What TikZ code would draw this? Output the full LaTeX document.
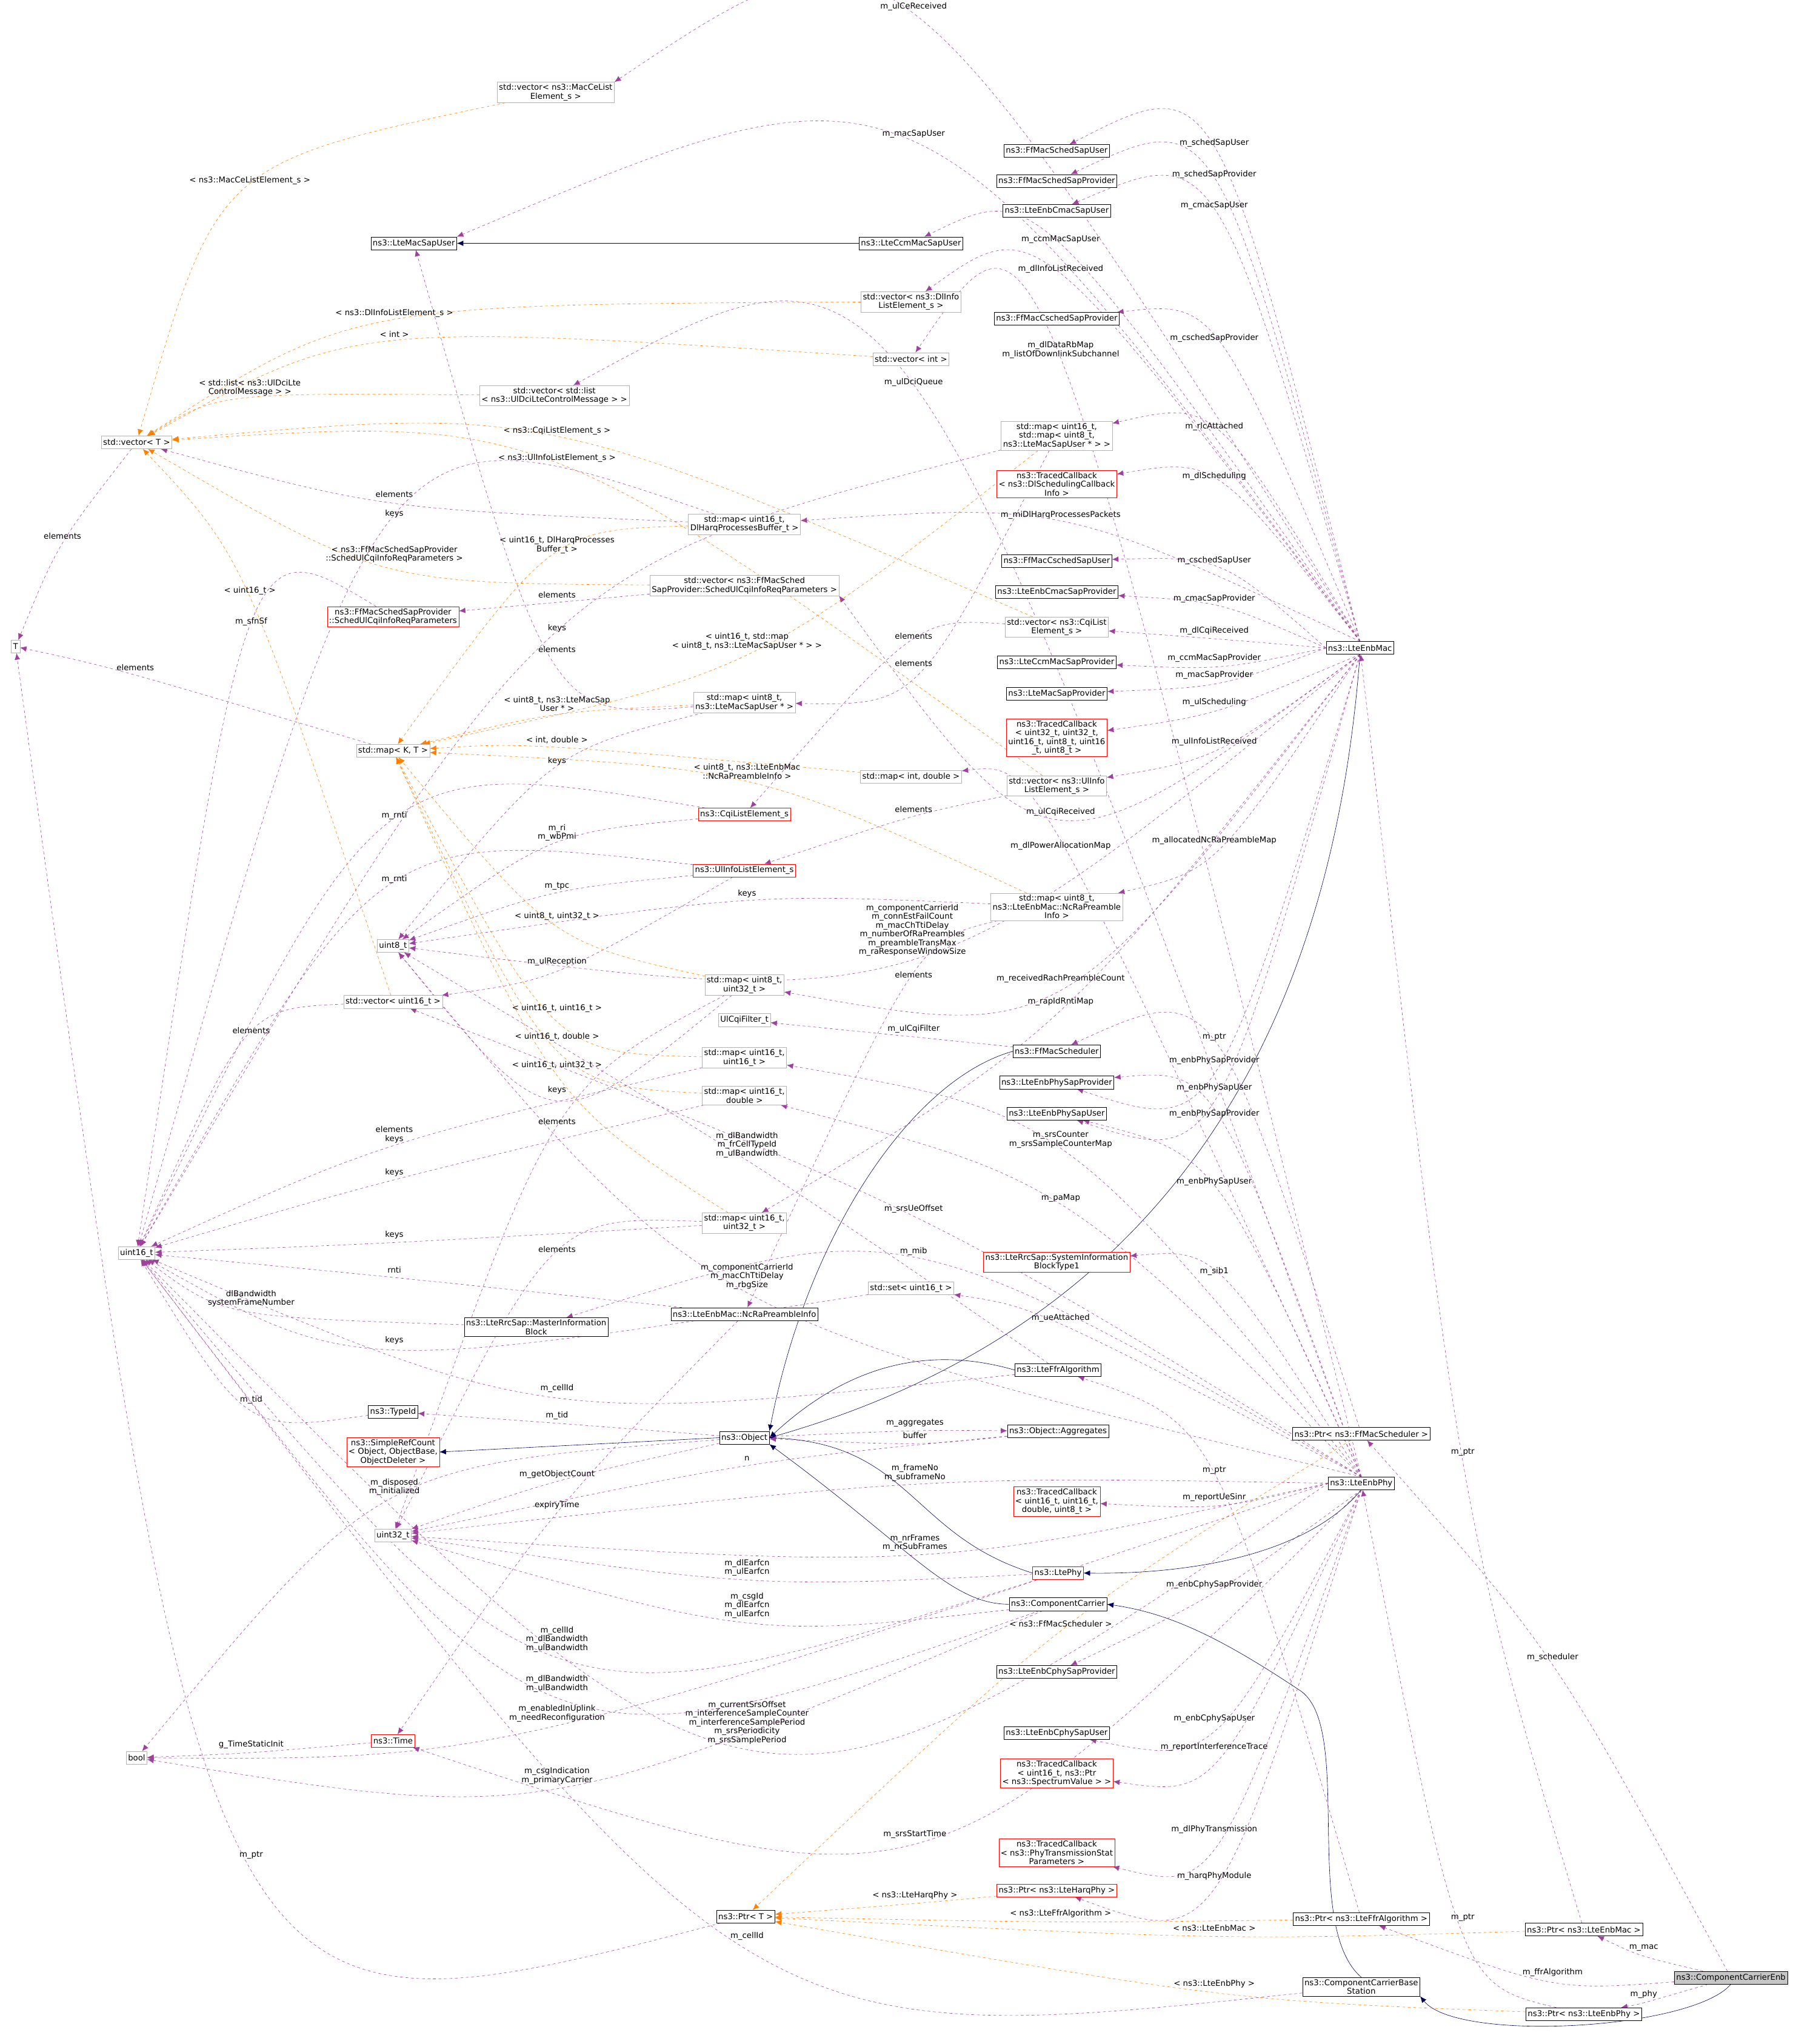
\documentclass[tikz,border=0pt]{standalone}
\usepackage{fontspec}
\setmainfont{DejaVu Sans}
\usetikzlibrary{arrows.meta,calc}
\pgfdeclarelayer{edges}
\pgfsetlayers{edges,main}
\tikzset{
 bx/.style={draw=black,fill=white,font=\fontsize{8.8}{9.6}\selectfont,align=center,inner sep=2pt,minimum height=14},
 gb/.style={bx,draw=gray!60},
 rb/.style={bx,draw=red},
 use/.style={dashed,draw=violet!75,-{Latex[length=7,width=6]}},
 tpl/.style={dashed,draw=orange,-{Latex[length=7,width=6]}},
 inh/.style={draw=blue!35!black,-{Latex[length=7,width=6]}},
 lab/.style={font=\fontsize{8.8}{9.6}\selectfont,align=center,text=black,inner sep=1pt}
}
% \Ed[offset]{style}{src}{tgt}{label}{x}{y}
\newcommand{\Ed}[7][6]{\draw[#2] (#3) .. controls ($1.3333*(#6,#7+#1)-0.1667*(#3)-0.1667*(#4)$) .. (#4);
 \node[lab] at (#6,#7) {#5};}
\begin{document}
\begin{tikzpicture}[x=0.05cm,y=-0.05cm]
\useasboundingbox (0,0) rectangle (1380,1571);
% nodes
\node[gb] (vMacCe) at (427,71) {std::vector< ns3::MacCeList\\Element\_s >};
\node[bx] (LMSU) at (318,187) {ns3::LteMacSapUser};
\node[bx] (LCMSU) at (700,187) {ns3::LteCcmMacSapUser};
\node[bx] (FMSSU) at (812,116) {ns3::FfMacSchedSapUser};
\node[bx] (FMSSP) at (812,139) {ns3::FfMacSchedSapProvider};
\node[bx] (LECSU) at (812,162) {ns3::LteEnbCmacSapUser};
\node[gb] (vDl) at (700,232) {std::vector< ns3::DlInfo\\ListElement\_s >};
\node[bx] (FMCSP) at (812,245) {ns3::FfMacCschedSapProvider};
\node[gb] (vInt) at (700,276) {std::vector< int >};
\node[gb] (vUlDci) at (426,304) {std::vector< std::list\\< ns3::UlDciLteControlMessage > >};
\node[gb] (vT) at (105,340) {std::vector< T >};
\node[gb] (mCcm) at (812,335) {std::map< uint16\_t,\\std::map< uint8\_t,\\ns3::LteMacSapUser * > >};
\node[rb] (TDl) at (812,372) {ns3::TracedCallback\\< ns3::DlSchedulingCallback\\Info >};
\node[gb] (mHarq) at (572,403) {std::map< uint16\_t,\\DlHarqProcessesBuffer\_t >};
\node[bx] (FMCSU) at (812,431) {ns3::FfMacCschedSapUser};
\node[bx] (LECSP) at (812,455) {ns3::LteEnbCmacSapProvider};
\node[gb] (vSUl) at (572,450) {std::vector< ns3::FfMacSched\\SapProvider::SchedUlCqiInfoReqParameters >};
\node[rb] (SUl) at (302,474) {ns3::FfMacSchedSapProvider\\::SchedUlCqiInfoReqParameters};
\node[gb] (vCqi) at (812,482) {std::vector< ns3::CqiList\\Element\_s >};
\node[gb] (T) at (12,497) {T};
\node[bx] (Mac) at (1045,498) {ns3::LteEnbMac};
\node[bx] (LCMSP) at (812,509) {ns3::LteCcmMacSapProvider};
\node[gb] (mU8Sap) at (572,540) {std::map< uint8\_t,\\ns3::LteMacSapUser * >};
\node[bx] (LMSP) at (812,533) {ns3::LteMacSapProvider};
\node[rb] (TUl) at (812,567) {ns3::TracedCallback\\< uint32\_t, uint32\_t,\\uint16\_t, uint8\_t, uint16\\\_t, uint8\_t >};
\node[gb] (mKT) at (302,577) {std::map< K, T >};
\node[gb] (mID) at (700,597) {std::map< int, double >};
\node[gb] (vUlI) at (812,604) {std::vector< ns3::UlInfo\\ListElement\_s >};
\node[rb] (CqiE) at (572,626) {ns3::CqiListElement\_s};
\node[rb] (UlIE) at (572,669) {ns3::UlInfoListElement\_s};
\node[gb] (mRach) at (812,697) {std::map< uint8\_t,\\ns3::LteEnbMac::NcRaPreamble\\Info >};
\node[gb] (u8) at (302,727) {uint8\_t};
\node[gb] (mU8U32) at (572,757) {std::map< uint8\_t,\\uint32\_t >};
\node[gb] (vU16) at (302,770) {std::vector< uint16\_t >};
\node[gb] (UCF) at (572,784) {UlCqiFilter\_t};
\node[bx] (FMS) at (812,808) {ns3::FfMacScheduler};
\node[gb] (mU16U16) at (572,813) {std::map< uint16\_t,\\uint16\_t >};
\node[bx] (LEPSP) at (812,832) {ns3::LteEnbPhySapProvider};
\node[gb] (mU16D) at (572,842) {std::map< uint16\_t,\\double >};
\node[bx] (LEPSU) at (812,856) {ns3::LteEnbPhySapUser};
\node[gb] (mU16U32) at (572,940) {std::map< uint16\_t,\\uint32\_t >};
\node[gb] (u16) at (105,963) {uint16\_t};
\node[rb] (SIB) at (812,970) {ns3::LteRrcSap::SystemInformation\\BlockType1};
\node[gb] (sU16) at (700,990) {std::set< uint16\_t >};
\node[bx] (NcRa) at (572,1010) {ns3::LteEnbMac::NcRaPreambleInfo};
\node[bx] (MIB) at (412,1020) {ns3::LteRrcSap::MasterInformation\\Block};
\node[bx] (Ffr) at (813,1053) {ns3::LteFfrAlgorithm};
\node[bx] (TypeId) at (302,1085) {ns3::TypeId};
\node[bx] (PFMS) at (1046,1102) {ns3::Ptr< ns3::FfMacScheduler >};
\node[bx] (Obj) at (572,1105) {ns3::Object};
\node[bx] (Agg) at (813,1100) {ns3::Object::Aggregates};
\node[rb] (SRC) at (302,1116) {ns3::SimpleRefCount\\< Object, ObjectBase,\\ObjectDeleter >};
\node[bx] (Phy) at (1046,1140) {ns3::LteEnbPhy};
\node[rb] (TSinr) at (812,1154) {ns3::TracedCallback\\< uint16\_t, uint16\_t,\\double, uint8\_t >};
\node[gb] (u32) at (302,1180) {uint32\_t};
\node[rb] (LPhy) at (813,1209) {ns3::LtePhy};
\node[bx] (CC) at (813,1233) {ns3::ComponentCarrier};
\node[bx] (LECPSP) at (812,1285) {ns3::LteEnbCphySapProvider};
\node[bx] (LECPSU) at (812,1332) {ns3::LteEnbCphySapUser};
\node[gb] (bool) at (105,1351) {bool};
\node[rb] (Time) at (302,1338) {ns3::Time};
\node[rb] (TSp) at (812,1363) {ns3::TracedCallback\\< uint16\_t, ns3::Ptr\\< ns3::SpectrumValue > >};
\node[rb] (TTx) at (812,1424) {ns3::TracedCallback\\< ns3::PhyTransmissionStat\\Parameters >};
\node[rb] (PHarq) at (812,1453) {ns3::Ptr< ns3::LteHarqPhy >};
\node[bx] (PT) at (573,1473) {ns3::Ptr< T >};
\node[bx] (PFfr) at (1046,1475) {ns3::Ptr< ns3::LteFfrAlgorithm >};
\node[bx] (PMac) at (1217,1483) {ns3::Ptr< ns3::LteEnbMac >};
\node[bx] (CCBS) at (1046,1527) {ns3::ComponentCarrierBase\\Station};
\node[bx,fill=gray!45] (CCE) at (1330,1520) {ns3::ComponentCarrierEnb};
\node[bx] (PPhy) at (1217,1548) {ns3::Ptr< ns3::LteEnbPhy >};
\begin{pgfonlayer}{edges}
% inheritance
\draw[inh] (LCMSU) -- (LMSU);
\draw[inh] (FMS.west) .. controls (700,830) and (620,950) .. (Obj.north east);
\draw[inh] (Mac.south) .. controls (1030,700) and (960,1000) .. (Obj.east);
\draw[inh] (Ffr.west) .. controls (700,1030) and (640,1060) .. (Obj.east);
\draw[inh] (Obj.west) -- (SRC.east);
\draw[inh] (LPhy.west) .. controls (700,1180) and (700,1110) .. (Obj.east);
\draw[inh] (CC.west) .. controls (730,1233) and (700,1190) .. (Obj.south east);
\draw[inh] (Phy.south) .. controls (1000,1200) and (900,1210) .. (LPhy.east);
\draw[inh] (CCBS.north) .. controls (1000,1480) and (1040,1330) .. (1000,1300) .. controls (940,1260) and (900,1240) .. (CC.east);
\draw[inh] (CCE.south) .. controls (1300,1560) and (1120,1570) .. (CCBS.south east);
% LteEnbMac members
\Ed{use}{Mac.north}{vMacCe.north east}{m\_ulCeReceived}{702}{5}
\Ed{use}{Mac.north}{LMSU.north east}{m\_macSapUser}{702}{103}
\Ed{use}{Mac.north}{FMSSU}{m\_schedSapUser}{933}{110}
\Ed{use}{Mac.north}{FMSSP}{m\_schedSapProvider}{933}{134}
\Ed{use}{Mac.north}{LECSU}{m\_cmacSapUser}{933}{158}
\Ed{use}{Mac.north}{LCMSU}{m\_ccmMacSapUser}{815}{184}
\Ed{use}{Mac.north}{vDl}{m\_dlInfoListReceived}{815}{207}
\Ed{use}{Mac.north}{FMCSP}{m\_cschedSapProvider}{933}{260}
\Ed{use}{Mac.north}{mCcm}{m\_rlcAttached}{933}{328}
\Ed{use}{Mac.north}{TDl}{m\_dlScheduling}{933}{366}
\Ed{use}{Mac.north}{mHarq}{m\_miDlHarqProcessesPackets}{815}{396}
\Ed{use}{Mac.west}{FMCSU}{m\_cschedSapUser}{933}{431}
\Ed{use}{Mac.west}{LECSP}{m\_cmacSapProvider}{933}{460}
\Ed{use}{Mac.west}{vCqi}{m\_dlCqiReceived}{933}{485}
\Ed{use}{Mac.west}{LCMSP}{m\_ccmMacSapProvider}{933}{506}
\Ed{use}{Mac.west}{LMSP}{m\_macSapProvider}{933}{519}
\Ed{use}{Mac.south}{TUl}{m\_ulScheduling}{933}{540}
\Ed{use}{Mac.south}{vUlI}{m\_ulInfoListReceived}{933}{570}
\Ed{use}{Mac.south}{vSUl.south east}{m\_ulCqiReceived}{815}{624}
\Ed{use}{Mac.south}{mRach}{m\_allocatedNcRaPreambleMap}{933}{646}
\Ed[22]{use}{Mac.south}{u8}{m\_componentCarrierId\\m\_connEstFailCount\\m\_macChTtiDelay\\m\_numberOfRaPreambles\\m\_preambleTransMax\\m\_raResponseWindowSize}{701}{715}
\Ed{use}{Mac.south}{mU8U32}{m\_receivedRachPreambleCount}{815}{752}
\Ed{use}{Mac.south}{mU16U32}{m\_rapIdRntiMap}{815}{770}
\Ed{use}{Mac.south}{LEPSP}{m\_enbPhySapProvider}{933}{815}
\Ed{use}{Mac.south}{LEPSU}{m\_enbPhySapUser}{933}{836}
% LteEnbPhy members
\Ed[9]{use}{Phy.north}{vInt}{m\_dlDataRbMap\\m\_listOfDownlinkSubchannel}{815}{269}
\Ed{use}{Phy.north}{vUlDci}{m\_ulDciQueue}{702}{294}
\Ed{use}{Phy.north}{mID}{m\_dlPowerAllocationMap}{815}{650}
\Ed{use}{Phy.north}{LEPSP}{m\_enbPhySapProvider}{933}{856}
\Ed[9]{use}{Phy.north}{mU16U16}{m\_srsCounter\\m\_srsSampleCounterMap}{815}{876}
\Ed{use}{Phy.north}{LEPSU}{m\_enbPhySapUser}{933}{908}
\Ed{use}{Phy.north}{mU16D}{m\_paMap}{815}{921}
\Ed{use}{Phy.north}{vU16}{m\_srsUeOffset}{702}{929}
\Ed{use}{Phy.north}{SIB}{m\_sib1}{933}{977}
\Ed{use}{Phy.north}{MIB}{m\_mib}{702}{962}
\Ed{use}{Phy.north}{sU16}{m\_ueAttached}{815}{1013}
\Ed[12]{use}{Phy.north}{u8}{m\_componentCarrierId\\m\_macChTtiDelay\\m\_rbgSize}{574}{981}
\Ed{use}{Phy.west}{TSinr}{m\_reportUeSinr}{933}{1151}
\Ed[9]{use}{Phy.west}{u32}{m\_frameNo\\m\_subframeNo}{703}{1132}
\Ed[9]{use}{Phy.west}{u32}{m\_nrFrames\\m\_nrSubFrames}{703}{1186}
\Ed{use}{Phy.south}{LECPSP}{m\_enbCphySapProvider}{933}{1218}
\Ed{use}{Phy.south}{LECPSU}{m\_enbCphySapUser}{933}{1321}
\Ed{use}{Phy.south}{TSp}{m\_reportInterferenceTrace}{933}{1343}
\Ed{use}{Phy.south}{TTx}{m\_dlPhyTransmission}{933}{1406}
\Ed{use}{Phy.south}{PHarq}{m\_harqPhyModule}{933}{1442}
\Ed{use}{Phy.south}{Time}{m\_srsStartTime}{703}{1410}
\Ed[9]{use}{Phy.west}{bool}{m\_enabledInUplink\\m\_needReconfiguration}{428}{1317}
\Ed[20]{use}{Phy.west}{u16}{m\_currentSrsOffset\\m\_interferenceSampleCounter\\m\_interferenceSamplePeriod\\m\_srsPeriodicity\\m\_srsSamplePeriod}{574}{1324}
% other members
\Ed{use}{FMS}{UCF}{m\_ulCqiFilter}{702}{791}
\Ed[12]{use}{Ffr}{u8}{m\_dlBandwidth\\m\_frCellTypeId\\m\_ulBandwidth}{574}{880}
\Ed{use}{Ffr}{u16}{m\_cellId}{428}{1067}
\Ed{use}{NcRa}{u16}{rnti}{303}{976}
\Ed{use}{NcRa}{Time}{expiryTime}{428}{1157}
\Ed[9]{use}{MIB}{u16}{dlBandwidth\\systemFrameNumber}{193}{998}
\Ed{use}{Obj}{TypeId}{m\_tid}{428}{1088}
\Ed{use}{TypeId}{u16}{m\_tid}{193}{1076}
\Ed{use}{Obj}{Agg}{m\_aggregates}{703}{1094}
\Ed{use}{Agg}{Obj}{buffer}{703}{1103}
\Ed{use}{Agg}{u32}{n}{574}{1121}
\Ed[9]{use}{Obj}{bool}{m\_disposed\\m\_initialized}{303}{1143}
\Ed{use}{Obj}{u32}{m\_getObjectCount}{428}{1133}
\Ed[9]{use}{LPhy}{u32}{m\_dlEarfcn\\m\_ulEarfcn}{574}{1205}
\Ed[12]{use}{LPhy}{u16}{m\_cellId\\m\_dlBandwidth\\m\_ulBandwidth}{428}{1260}
\Ed[12]{use}{CC}{u32}{m\_csgId\\m\_dlEarfcn\\m\_ulEarfcn}{574}{1234}
\Ed[9]{use}{CC}{u16}{m\_dlBandwidth\\m\_ulBandwidth}{428}{1294}
\Ed[9]{use}{CC}{bool}{m\_csgIndication\\m\_primaryCarrier}{428}{1365}
\Ed{use}{Time}{bool}{g\_TimeStaticInit}{193}{1341}
\Ed{use}{PT}{T}{m\_ptr}{193}{1426}
\Ed{use}{PFMS}{FMS}{m\_ptr}{933}{797}
\Ed{use}{PFfr}{Ffr}{m\_ptr}{933}{1130}
\Ed{use}{PMac}{Mac}{m\_ptr}{1124}{1116}
\Ed{use}{PPhy}{Phy}{m\_ptr}{1124}{1474}
\Ed{use}{CCE}{PMac}{m\_mac}{1263}{1497}
\Ed{use}{CCE}{PFfr}{m\_ffrAlgorithm}{1193}{1516}
\Ed{use}{CCE}{PPhy}{m\_phy}{1263}{1533}
\Ed{use}{CCE}{PFMS}{m\_scheduler}{1193}{1274}
\Ed{use}{CCBS}{u16}{m\_cellId}{574}{1488}
% containers
\Ed{use}{vT}{T}{elements}{48}{412}
\Ed{use}{mKT}{T}{elements}{104}{513}
\Ed{use}{mHarq}{vT}{elements}{303}{380}
\Ed{use}{mHarq}{u16}{keys}{303}{395}
\Ed{use}{vSUl}{SUl}{elements}{428}{457}
\Ed{use}{SUl}{u16}{m\_sfnSf}{193}{478}
\Ed{use}{mU8Sap}{LMSU}{elements}{428}{499}
\Ed{use}{mU8Sap}{u8}{keys}{428}{585}
\Ed{use}{mCcm}{mU8Sap}{elements}{702}{510}
\Ed{use}{mCcm}{u16}{keys}{428}{483}
\Ed{use}{vCqi}{CqiE}{elements}{702}{489}
\Ed{use}{vUlI}{UlIE}{elements}{702}{622}
\Ed{use}{CqiE}{u16}{m\_rnti}{303}{627}
\Ed[9]{use}{CqiE}{u8}{m\_ri\\m\_wbPmi}{428}{640}
\Ed{use}{UlIE}{u16}{m\_rnti}{303}{676}
\Ed{use}{UlIE}{u8}{m\_tpc}{428}{681}
\Ed{use}{UlIE}{vU16}{m\_ulReception}{428}{739}
\Ed{use}{mRach}{NcRa}{elements}{702}{749}
\Ed{use}{mRach}{u8}{keys}{574}{687}
\Ed{use}{vU16}{u16}{elements}{193}{792}
\Ed{use}{mU8U32}{u8}{keys}{428}{838}
\Ed{use}{mU8U32}{u32}{elements}{428}{862}
\Ed[9]{use}{mU16U16}{u16}{elements\\keys}{303}{872}
\Ed{use}{mU16D}{u16}{keys}{303}{901}
\Ed{use}{mU16U32}{u16}{keys}{303}{949}
\Ed{use}{mU16U32}{u32}{elements}{428}{960}
\Ed{use}{sU16}{u16}{keys}{303}{1030}
% templates
\Ed{tpl}{vMacCe}{vT}{< ns3::MacCeListElement\_s >}{192}{139}
\Ed{tpl}{vDl}{vT}{< ns3::DlInfoListElement\_s >}{303}{241}
\Ed{tpl}{vInt}{vT}{< int >}{303}{257}
\Ed[9]{tpl}{vUlDci}{vT}{< std::list< ns3::UlDciLte\\ControlMessage > >}{192}{298}
\Ed{tpl}{vCqi}{vT}{< ns3::CqiListElement\_s >}{428}{331}
\Ed{tpl}{vUlI}{vT}{< ns3::UlInfoListElement\_s >}{428}{352}
\Ed[9]{tpl}{vSUl}{vT}{< ns3::FfMacSchedSapProvider\\::SchedUlCqiInfoReqParameters >}{303}{426}
\Ed{tpl}{vU16}{vT}{< uint16\_t >}{192}{454}
\Ed[9]{tpl}{mHarq}{mKT}{< uint16\_t, DlHarqProcesses\\Buffer\_t >}{428}{419}
\Ed[9]{tpl}{mCcm}{mKT}{< uint16\_t, std::map\\< uint8\_t, ns3::LteMacSapUser * > >}{574}{493}
\Ed[9]{tpl}{mU8Sap}{mKT}{< uint8\_t, ns3::LteMacSap\\User * >}{428}{541}
\Ed{tpl}{mID}{mKT}{< int, double >}{428}{569}
\Ed[9]{tpl}{mRach}{mKT}{< uint8\_t, ns3::LteEnbMac\\::NcRaPreambleInfo >}{574}{593}
\Ed{tpl}{mU8U32}{mKT}{< uint8\_t, uint32\_t >}{428}{704}
\Ed{tpl}{mU16U16}{mKT}{< uint16\_t, uint16\_t >}{428}{775}
\Ed{tpl}{mU16D}{mKT}{< uint16\_t, double >}{428}{797}
\Ed{tpl}{mU16U32}{mKT}{< uint16\_t, uint32\_t >}{428}{819}
\Ed{tpl}{PFMS}{PT}{< ns3::FfMacScheduler >}{815}{1248}
\Ed{tpl}{PHarq}{PT}{< ns3::LteHarqPhy >}{703}{1457}
\Ed{tpl}{PFfr}{PT}{< ns3::LteFfrAlgorithm >}{815}{1471}
\Ed{tpl}{PMac}{PT}{< ns3::LteEnbMac >}{933}{1482}
\Ed{tpl}{PPhy}{PT}{< ns3::LteEnbPhy >}{933}{1525}
\end{pgfonlayer}
\end{tikzpicture}
\end{document}
